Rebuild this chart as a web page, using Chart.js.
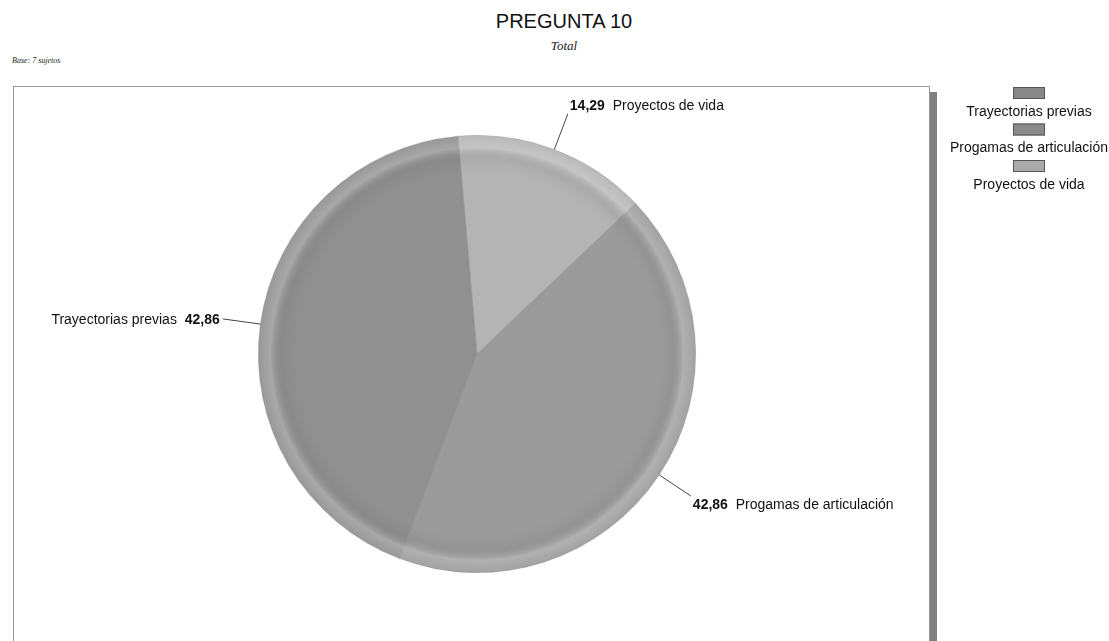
<!DOCTYPE html>
<html><head><meta charset="utf-8">
<script src="https://cdn.jsdelivr.net/npm/chart.js@4/dist/chart.umd.min.js"></script>
<style>
html,body{margin:0;padding:0;background:#fff;}
#wrap{position:relative;width:1109px;height:641px;overflow:hidden;}
#title{position:absolute;left:0;width:1128px;top:10px;text-align:center;font:20px "Liberation Sans",Arial,sans-serif;color:#111;}
#sub{position:absolute;left:0;width:1128px;top:38px;text-align:center;font:italic 13px "Liberation Serif","Times New Roman",serif;color:#222;}
#base{position:absolute;left:12px;top:56px;font:italic 8px "Liberation Serif","Times New Roman",serif;color:#222;}
#frame{position:absolute;left:13px;top:86px;width:915px;height:600px;border:1px solid #999;background:#fff;box-shadow:7px 6px 0 #808080;}
canvas{position:absolute;left:0;top:0;}
</style></head><body>
<div id="wrap">
<div id="title">PREGUNTA 10</div>
<div id="sub">Total</div>
<div id="base">Base: 7 sujetos</div>
<div id="frame"></div>
<canvas id="c" width="1109" height="641"></canvas>
</div>
<script>
const categories = ["Proyectos de vida", "Progamas de articulación", "Trayectorias previas"];
const values = [14.29, 42.86, 42.86];
const valueLabels = ["14,29", "42,86", "42,86"];
const colors = ["#b4b4b4", "#9b9b9b", "#909090"];
const legendOrder = ["Trayectorias previas", "Progamas de articulación", "Proyectos de vida"];
const legendColors = ["#888888", "#8a8a8a", "#a9a9a9"];

const ringPlugin = {
  id: 'ring',
  afterDatasetsDraw(chart) {
    const arc = chart.getDatasetMeta(0).data[0];
    if (!arc) return;
    const ctx = chart.ctx, x = arc.x, y = arc.y, r = arc.outerRadius;
    const g = ctx.createRadialGradient(x, y, 0, x, y, r);
    g.addColorStop(0, 'rgba(255,255,255,0)');
    g.addColorStop(0.83, 'rgba(0,0,0,0)');
    g.addColorStop(0.88, 'rgba(0,0,0,0.03)');
    g.addColorStop(0.945, 'rgba(255,255,255,0.22)');
    g.addColorStop(1, 'rgba(255,255,255,0.07)');
    ctx.save();
    ctx.beginPath(); ctx.arc(x, y, r, 0, Math.PI * 2);
    ctx.fillStyle = g; ctx.fill();
    ctx.restore();
  }
};

const labelPlugin = {
  id: 'labels',
  afterDraw(chart) {
    const meta = chart.getDatasetMeta(0);
    const ctx = chart.ctx;
    meta.data.forEach((arc, i) => {
      const mid = (arc.startAngle + arc.endAngle) / 2;
      const cx = Math.cos(mid), sy = Math.sin(mid);
      const r = arc.outerRadius;
      const x0 = arc.x + cx * r, y0 = arc.y + sy * r;
      const x1 = arc.x + cx * (r + 38), y1 = arc.y + sy * (r + 38);
      ctx.save();
      ctx.strokeStyle = '#444'; ctx.lineWidth = 1;
      ctx.beginPath(); ctx.moveTo(x0, y0); ctx.lineTo(x1, y1); ctx.stroke();
      ctx.textBaseline = 'middle';
      const ty = y1 + sy * 12 + 3;
      const bold = 'bold 14px "Liberation Sans", Arial, sans-serif';
      const norm = '14px "Liberation Sans", Arial, sans-serif';
      ctx.fillStyle = '#111';
      if (cx >= 0) {
        let tx = x1 + 2;
        ctx.textAlign = 'left';
        ctx.font = bold; ctx.fillText(valueLabels[i], tx, ty);
        const w = ctx.measureText(valueLabels[i] + '  ').width;
        ctx.font = norm; ctx.fillText(categories[i], tx + w, ty);
      } else {
        let tx = x1 - 3;
        ctx.textAlign = 'right';
        ctx.font = bold; ctx.fillText(valueLabels[i], tx, ty);
        const w = ctx.measureText('  ' + valueLabels[i]).width;
        ctx.font = norm; ctx.fillText(categories[i], tx - w, ty);
      }
      ctx.restore();
    });
    // legend
    ctx.save();
    ctx.font = '14px "Liberation Sans", Arial, sans-serif';
    ctx.textAlign = 'center'; ctx.textBaseline = 'middle';
    legendOrder.forEach((name, i) => {
      const by = 87 + i * 36.5;
      ctx.fillStyle = legendColors[i];
      ctx.fillRect(1013, by, 32, 12);
      ctx.strokeStyle = '#555'; ctx.lineWidth = 1;
      ctx.strokeRect(1013.5, by + 0.5, 31, 11);
      ctx.fillStyle = '#111';
      ctx.fillText(name, 1029, by + 25);
    });
    ctx.restore();
  }
};

new Chart(document.getElementById('c'), {
  type: 'pie',
  data: {
    labels: categories,
    datasets: [{
      data: values,
      backgroundColor: colors,
      borderColor: 'rgba(120,120,120,0.45)',
      borderWidth: 0.6
    }]
  },
  options: {
    responsive: false,
    animation: false,
    rotation: -5,
    layout: { padding: { left: 258, right: 413, top: 135, bottom: 68 } },
    plugins: { legend: { display: false }, tooltip: { enabled: false } }
  },
  plugins: [ringPlugin, labelPlugin]
});
</script>
</body></html>
